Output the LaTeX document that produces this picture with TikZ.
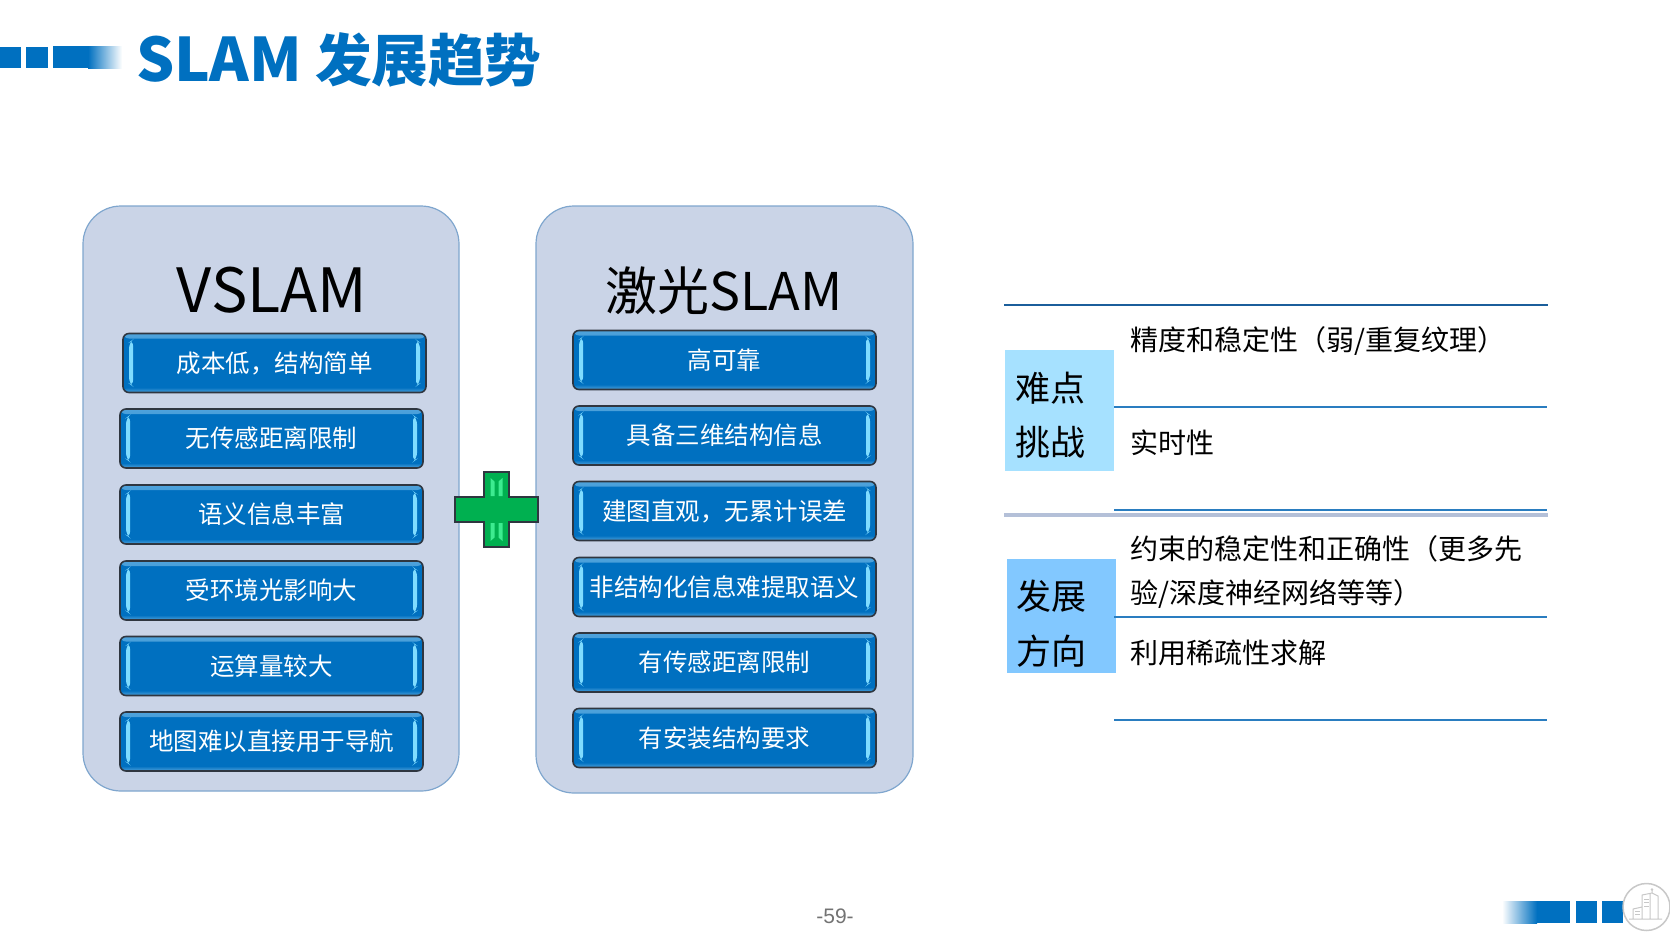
\documentclass[tikz,border=0pt]{standalone}
\usepackage{fontspec}
\setmainfont{Noto Sans CJK SC}
\newfontfamily\pagefont{Liberation Sans}
\definecolor{slideblue}{HTML}{0070C0}
\definecolor{panelfill}{HTML}{CAD4E7}
\definecolor{paneledge}{HTML}{7FA6CE}
\definecolor{btnedge}{HTML}{2F3640}
\definecolor{btnglow}{HTML}{7FDCFF}
\definecolor{btnrim}{HTML}{4FA3DC}
\definecolor{plusfill}{HTML}{00B050}
\definecolor{plusglow}{HTML}{3DEB90}
\definecolor{ruledark}{HTML}{1B5E9B}
\definecolor{rulemid}{HTML}{2A7DC0}
\definecolor{rulegrey}{HTML}{B4C0D8}
\definecolor{hardcell}{HTML}{A6E1FF}
\definecolor{trendcell}{HTML}{82C8FF}
\definecolor{icongrey}{HTML}{C8C8C8}
\tikzset{
  panel/.style={draw=paneledge, line width=1.2pt, fill=panelfill, rounded corners=38pt},
  btn/.style={draw=btnedge, line width=1.6pt, fill=slideblue, rounded corners=6pt,
    minimum width=303pt, minimum height=59pt, inner sep=0pt, text=white,
    font=\fontsize{24.5}{28}\selectfont,
    path picture={
      \shade[top color=btnrim, bottom color=slideblue] (path picture bounding box.north west) rectangle ([yshift=-5pt]path picture bounding box.north east);
      \shade[top color=slideblue, bottom color=btnrim] (path picture bounding box.south west) rectangle ([yshift=5pt]path picture bounding box.south east);
      \fill[btnglow] ([shift={(6pt,-9pt)}]path picture bounding box.north west) -- ([shift={(10pt,-6pt)}]path picture bounding box.north west)
        -- ([shift={(10pt,6pt)}]path picture bounding box.south west) -- ([shift={(6pt,9pt)}]path picture bounding box.south west) -- cycle;
      \fill[btnglow] ([shift={(-6pt,-9pt)}]path picture bounding box.north east) -- ([shift={(-10pt,-6pt)}]path picture bounding box.north east)
        -- ([shift={(-10pt,6pt)}]path picture bounding box.south east) -- ([shift={(-6pt,9pt)}]path picture bounding box.south east) -- cycle;
    }},
  heading/.style={text=black, font=\fontsize{52}{60}\selectfont, inner sep=0pt},
  rowtext/.style={anchor=west, inner sep=0pt, text=black, align=left,
    font=\fontsize{28}{44}\selectfont},
  celltext/.style={anchor=west, inner sep=0pt, text=black,
    font=\fontsize{35}{40}\selectfont},
  rule/.style={draw=rulemid, line width=1.6pt},
}
\begin{document}
\begin{tikzpicture}[x=1pt, y=-1pt]
    \useasboundingbox (0, 0) rectangle (1670, 938);

    % Title bar
    \fill [slideblue] (0, 47) rectangle (21, 68);
    \fill [slideblue] (26, 47) rectangle (48, 68);
    \fill [slideblue] (53, 46) rectangle (88, 68);
    \shade [left color=slideblue, right color=white] (88, 46) rectangle (122, 68);
    \node [anchor=base west, inner sep=0pt, text=slideblue, font=\fontsize{56.6}{64}\bfseries\selectfont]
          (title) at (136, 81.5) {{\fontsize{60}{64}\selectfont SLAM} 发展趋势};

    % Left panel
    \draw [panel] (83, 206) rectangle (459, 791);
    \node [heading, font=\fontsize{61}{66}\selectfont] (vslam) at (272, 290) {VSLAM};
    \node [btn] (a0) at (274.5, 363) {成本低，结构简单};
    \foreach \i/\y/\t in {1/438.5/无传感距离限制, 2/514.5/语义信息丰富, 3/590.5/受环境光影响大,
                          4/666/运算量较大, 5/741.5/地图难以直接用于导航} {
      \node [btn] (a\i) at (271.5, \y) {\t};
    }

    % Right panel
    \draw [panel] (536, 206) rectangle (913, 793);
    \node [heading] (lidar) at (724, 291) {激光SLAM};
    \foreach \i/\y/\t in {0/360/高可靠, 1/435.5/具备三维结构信息, 2/511/建图直观，无累计误差,
                          3/587/非结构化信息难提取语义, 4/662.5/有传感距离限制, 5/738/有安装结构要求} {
      \node [btn] (b\i) at (724.5, \y) {\t};
    }

    % Plus sign
    \draw [draw=btnedge, line width=1.2pt, fill=plusfill]
          (484, 472) -- (509, 472) -- (509, 497) -- (538, 497) -- (538, 522) -- (509, 522)
          -- (509, 547) -- (484, 547) -- (484, 522) -- (455, 522) -- (455, 497) -- (484, 497) -- cycle;
    \fill [plusglow] (490.5, 478) -- (494.5, 481.5) -- (494.5, 496) -- (490.5, 496) -- cycle;
    \fill [plusglow] (502.5, 478) -- (498.5, 481.5) -- (498.5, 496) -- (502.5, 496) -- cycle;
    \fill [plusglow] (490.5, 541) -- (494.5, 537.5) -- (494.5, 523) -- (490.5, 523) -- cycle;
    \fill [plusglow] (502.5, 541) -- (498.5, 537.5) -- (498.5, 523) -- (502.5, 523) -- cycle;

    % Right table
    \fill [hardcell] (1005, 350) rectangle (1114, 471);
    \fill [trendcell] (1007, 559) rectangle (1116, 673);
    \draw [ruledark, line width=2.8pt] (1004, 305) -- (1548, 305);
    \draw [rule] (1114, 407) -- (1547, 407);
    \draw [rule] (1114, 510) -- (1547, 510);
    \draw [rulegrey, line width=3.6pt] (1004, 515) -- (1548, 515);
    \draw [rule] (1114, 617) -- (1547, 617);
    \draw [rule] (1114, 720) -- (1547, 720);

    \node [celltext] (hard1) at (1015, 388) {难点};
    \node [celltext] (hard2) at (1015, 442) {挑战};
    \node [celltext] (trend1) at (1016, 596) {发展};
    \node [celltext] (trend2) at (1016, 651) {方向};

    \node [rowtext] (r0) at (1130, 341) {精度和稳定性（弱/重复纹理）};
    \node [rowtext] (r1) at (1130, 443) {实时性};
    \node [rowtext] (r2) at (1130, 572.5) {约束的稳定性和正确性（更多先\\验/深度神经网络等等）};
    \node [rowtext] (r3) at (1130, 653) {利用稀疏性求解};

    % Footer
    \node [text=black!55, inner sep=0pt, font=\pagefont\fontsize{21}{24}\selectfont] (page) at (835, 916) {-59-};
    \shade [left color=white, right color=slideblue] (1502, 901) rectangle (1537, 923);
    \fill [slideblue] (1537, 901) rectangle (1570, 923);
    \fill [slideblue] (1576, 901) rectangle (1597, 923);
    \fill [slideblue] (1602, 901) rectangle (1623, 923);

    % Building icon
    \draw [icongrey, line width=1.5pt, fill=white] (1646.5, 907) circle (23.5);
    \draw [icongrey, line width=1pt]
          (1629, 919) -- (1662, 919)
          (1633, 919) -- (1633, 909) -- (1642, 907) -- (1642, 919)
          (1642, 907) -- (1642, 895) -- (1652, 893) -- (1658, 896) -- (1658, 919)
          (1650, 894) -- (1650, 919)
          (1652, 893) -- (1652, 890);
    \fill [icongrey] (1652, 889.5) circle (1.3);
    \foreach \y in {899, 902.5, 906} {
      \draw [icongrey, line width=0.8pt] (1644, \y) -- (1648.5, \y);
    }
    \foreach \y in {911, 914.5} {
      \draw [icongrey, line width=0.8pt] (1635, \y) -- (1640, \y);
    }
\end{tikzpicture}
\end{document}
